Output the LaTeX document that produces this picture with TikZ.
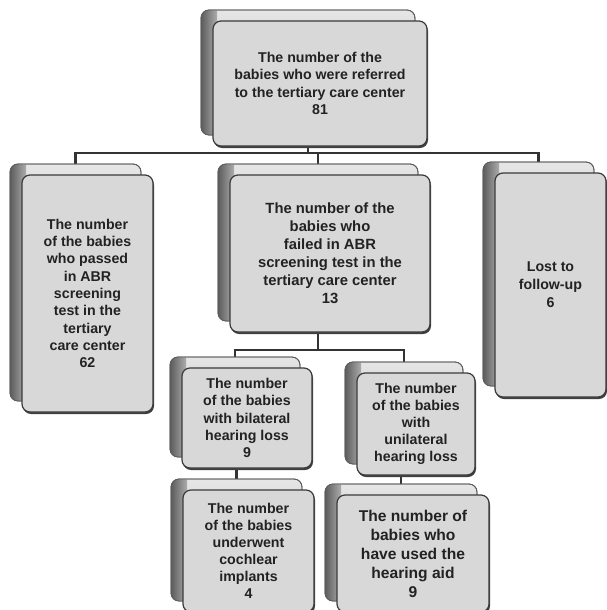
\documentclass[tikz,border=0pt]{standalone}
\usepackage{fontspec}
\setmainfont{Liberation Sans}
\usetikzlibrary{calc,backgrounds}
\definecolor{ffill}{HTML}{D8D8D8}
\definecolor{fline}{HTML}{3A3A3A}
\definecolor{btop}{HTML}{E6E6E6}
\definecolor{bbot}{HTML}{ACACAC}
\definecolor{bdark}{HTML}{5C5C5C}
\definecolor{conn}{HTML}{333333}
\definecolor{txt}{HTML}{222222}
\tikzset{
  frontbox/.style={draw=fline, line width=1.2pt, fill=ffill, rounded corners=8pt,
    inner sep=0pt, outer sep=0pt, align=center, text=txt},
  backbox/.style={draw=bdark, line width=0.8pt, rounded corners=8pt,
    inner sep=0pt, outer sep=0pt, top color=btop, bottom color=bbot},
  conline/.style={draw=conn, line width=2.6pt},
}
% #1 name, #2 x1, #3 y1, #4 x2, #5 y2, #6 font size, #7 baselineskip, #8 text
\newcommand\stk[8]{%
  \pgfmathsetmacro\stkcx{(#2+#4)/2}%
  \pgfmathsetmacro\stkcy{(#3+#5)/2}%
  \pgfmathsetmacro\stkw{#4-#2}%
  \pgfmathsetmacro\stkh{#5-#3}%
  \node[backbox, minimum width=\stkw pt, minimum height=\stkh pt] (#1b) at (\stkcx-12,\stkcy-11) {};
  \begin{scope}
    \clip[rounded corners=8pt] (#1b.north west) rectangle (#1b.south east);
    \shade[left color=bdark, right color=bbot] (#1b.north west) rectangle ($(#1b.south west)+(16,0)$);
  \end{scope}
  \draw[draw=bdark, line width=0.8pt, rounded corners=8pt] (#1b.north west) rectangle (#1b.south east);
  \fill[black!75, rounded corners=8pt] (#2+1,#3+2) rectangle (#4+1,#5+2);
  \node[frontbox, minimum width=\stkw pt, minimum height=\stkh pt,
        font=\bfseries\fontsize{#6}{#7}\selectfont] (#1) at (\stkcx,\stkcy) {#8};
}
\begin{document}
\begin{tikzpicture}[x=1pt,y=-1pt]
\useasboundingbox (0,0) rectangle (607,610);
\clip (0,0) rectangle (607,610);
\begin{pgfonlayer}{background}
  \fill[white] (0,0) rectangle (607,610);
\end{pgfonlayer}

\stk{top}{213}{21}{427}{146}{14.2}{17.5}{The number of the\\babies who were referred\\to the tertiary care center\\81}
\stk{left}{22}{175}{153}{412}{14.2}{17.3}{The number\\of the babies\\who passed\\in ABR\\screening\\test in the\\tertiary\\care center\\62}
\stk{mid}{230}{175}{430}{332}{14.8}{18}{The number of the\\babies who\\failed in ABR\\screening test in the\\tertiary care center\\13}
\stk{right}{495}{173}{606}{397}{14.2}{18}{Lost to\\follow-up\\6}
\stk{bil}{182}{368}{312}{468}{14.2}{17.3}{The number\\of the babies\\with bilateral\\hearing loss\\9}
\stk{uni}{357}{373}{475}{475}{14.2}{17}{The number\\of the babies\\with\\unilateral\\hearing loss}
\stk{coch}{183}{490}{314}{612}{14.2}{17}{The number\\of the babies\\underwent\\cochlear\\implants\\4}
\stk{hear}{337}{495}{489}{612}{15.6}{19}{The number of\\babies who\\have used the\\hearing aid\\9}

\coordinate (bus1) at (320,153);
\coordinate (bus2) at (318,350);
\begin{pgfonlayer}{background}
  \draw[conline] (leftb.north) |- (bus1) -| (rightb.north);
  \draw[conline] (topb.south) -- (topb.south |- bus1);
  \draw[conline] (midb.north) -- (midb.north |- bus1);
  \draw[conline] (bilb.north) |- (bus2) -| (unib.north);
  \draw[conline] (midb.south) -- (midb.south |- bus2);
  \draw[conline] (cochb.north |- bilb.south) -- (cochb.north);
  \draw[conline] (hearb.north |- unib.south) -- (hearb.north);
\end{pgfonlayer}
\end{tikzpicture}
\end{document}
